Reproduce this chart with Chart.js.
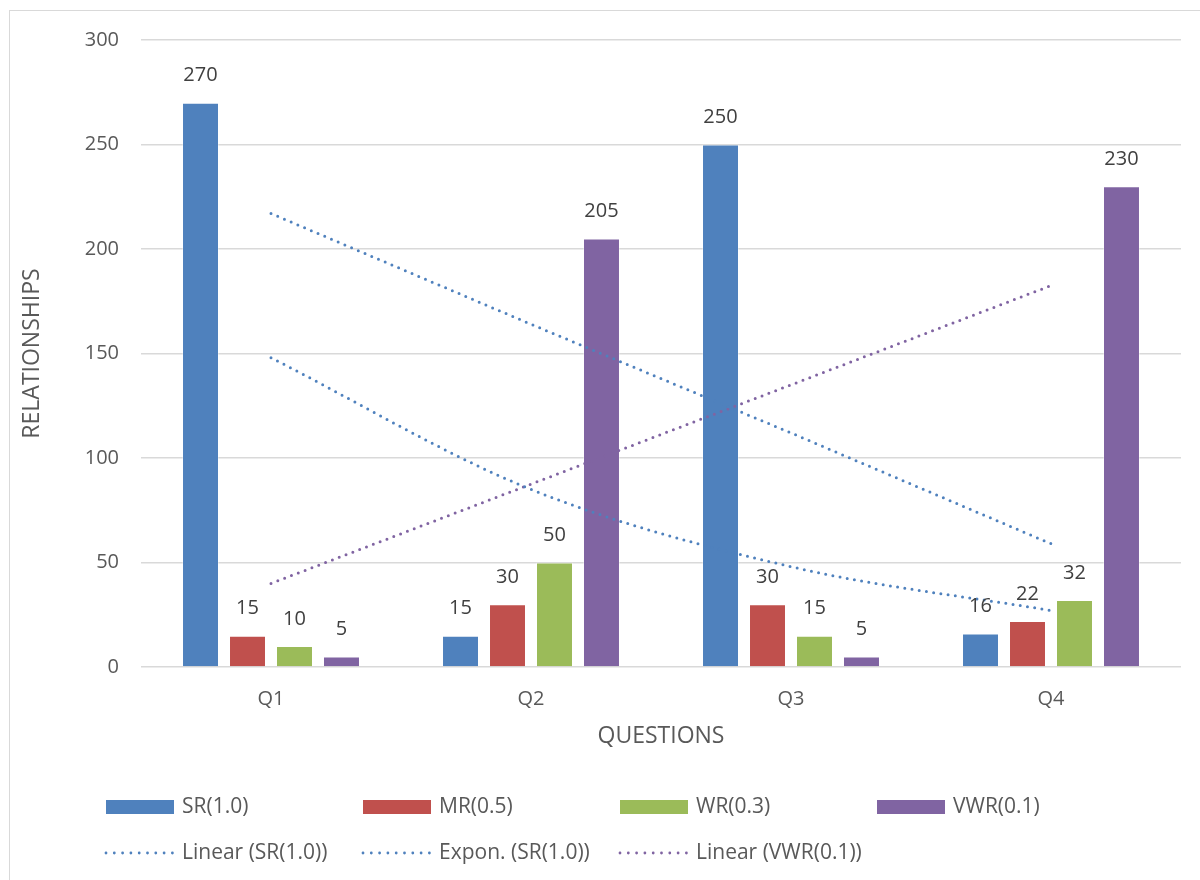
<!DOCTYPE html>
<html><head><meta charset="utf-8">
<script src="https://cdn.jsdelivr.net/npm/chart.js@4.4.0/dist/chart.umd.min.js"></script>
<style>
html,body{margin:0;padding:0;background:#fff;}
#wrap{position:relative;width:1200px;height:880px;overflow:hidden;}
#frame{position:absolute;left:9px;top:10px;width:1300px;height:1000px;border:1px solid #d9d9d9;box-sizing:border-box;}
canvas{position:absolute;left:0;top:0;}
</style></head><body>
<div id="wrap"><div id="frame"></div><canvas id="c" width="1200" height="880"></canvas></div>
<script>
const categories = ['Q1','Q2','Q3','Q4'];
const srValues  = [270, 15, 250, 16];
const mrValues  = [15, 30, 30, 22];
const wrValues  = [10, 50, 15, 32];
const vwrValues = [5, 205, 5, 230];
const linearSR  = [217, 164, 112, 59];
const exponSR   = [148, 85, 48, 27];
const linearVWR = [40, 87.5, 135, 182.5];
const yMin = 0, yMax = 300, yStep = 50;
const seriesLabels = ['SR(1.0)','MR(0.5)','WR(0.3)','VWR(0.1)','Linear (SR(1.0))','Expon. (SR(1.0))','Linear (VWR(0.1))'];

const FONT = "'Open Sans', 'Noto Sans', sans-serif";
const C_SR = '#4f81bd', C_MR = '#c0504d', C_WR = '#9bbb59', C_VWR = '#8064a2';

function barDs(label, data, color){
  return {type:'bar', label, data, backgroundColor: color, borderColor:'rgba(255,255,255,0.35)', borderWidth:1,
    categoryPercentage:0.723, barPercentage:0.787, order:1};
}
function lineDs(label, data, color, curved){
  return {type:'line', label, data, borderColor: color, borderWidth:3, borderDash:[0,7.3], borderCapStyle:'round',
    pointRadius:0, fill:false, order:0, cubicInterpolationMode: curved ? 'monotone' : 'default', tension:0};
}

const datasets = [
  barDs(seriesLabels[0], srValues, C_SR),
  barDs(seriesLabels[1], mrValues, C_MR),
  barDs(seriesLabels[2], wrValues, C_WR),
  barDs(seriesLabels[3], vwrValues, C_VWR),
  lineDs(seriesLabels[4], linearSR, C_SR, false),
  lineDs(seriesLabels[5], exponSR, C_SR, true),
  lineDs(seriesLabels[6], linearVWR, C_VWR, false)
];

const dataLabels = {
  id:'dataLabels',
  afterDatasetsDraw(chart){
    const ctx = chart.ctx;
    ctx.save();
    ctx.font = "20px " + FONT;
    ctx.fillStyle = '#404040';
    ctx.textAlign = 'center';
    ctx.textBaseline = 'middle';
    chart.data.datasets.forEach((ds, i) => {
      if (ds.type !== 'bar') return;
      const meta = chart.getDatasetMeta(i);
      meta.data.forEach((bar, j) => {
        ctx.fillText(String(ds.data[j]), bar.x, bar.y - 27);
      });
    });
    ctx.restore();
  }
};

// legend cell positions (layout only)
const legendCells = [
  {x:106, y:807}, {x:363, y:807}, {x:620, y:807}, {x:877, y:807},
  {x:106, y:853}, {x:363, y:853}, {x:620, y:853}
];
const customLegend = {
  id:'customLegend',
  afterDraw(chart){
    const ctx = chart.ctx;
    ctx.save();
    ctx.font = "21px " + FONT;
    ctx.textBaseline = 'middle';
    chart.data.datasets.forEach((ds, i) => {
      const cell = legendCells[i];
      if (ds.type === 'bar') {
        ctx.fillStyle = ds.backgroundColor;
        ctx.fillRect(cell.x, cell.y - 7, 68, 14);
      } else {
        ctx.strokeStyle = ds.borderColor;
        ctx.lineWidth = 2.8;
        ctx.lineCap = 'round';
        ctx.setLineDash([0, 8.3]);
        ctx.beginPath();
        ctx.moveTo(cell.x, cell.y);
        ctx.lineTo(cell.x + 67, cell.y);
        ctx.stroke();
        ctx.setLineDash([]);
      }
      ctx.fillStyle = '#595959';
      ctx.fillText(ds.label, cell.x + 76, cell.y);
    });
    ctx.restore();
  }
};

new Chart(document.getElementById('c'), {
  data: { labels: categories, datasets },
  options: {
    responsive:false,
    animation:false,
    devicePixelRatio:1,
    layout:{ padding:{ top:40, right:19, left:0, bottom:0 } },
    plugins:{ legend:{display:false}, tooltip:{enabled:false} },
    scales:{
      x:{
        offset:true,
        grid:{ display:false, drawTicks:false },
        border:{ display:false },
        ticks:{ color:'#595959', font:{ family:FONT, size:20 }, padding:20 },
        title:{ display:true, text:'QUESTIONS', color:'#595959', font:{ family:FONT, size:23 }, padding:{top:0,bottom:130} },
        afterFit(scale){ scale.height = 213; }
      },
      y:{
        min:yMin, max:yMax,
        grid:{ color:'#d9d9d9', lineWidth:1.5, drawTicks:false },
        border:{ display:false },
        ticks:{ stepSize:yStep, color:'#595959', font:{ family:FONT, size:20 }, padding:22 },
        title:{ display:true, text:'RELATIONSHIPS', color:'#595959', font:{ family:FONT, size:23 }, padding:{top:19,bottom:0} },
        afterFit(scale){ scale.width = 141; }
      }
    }
  },
  plugins:[dataLabels, customLegend]
});
</script>
</body></html>
